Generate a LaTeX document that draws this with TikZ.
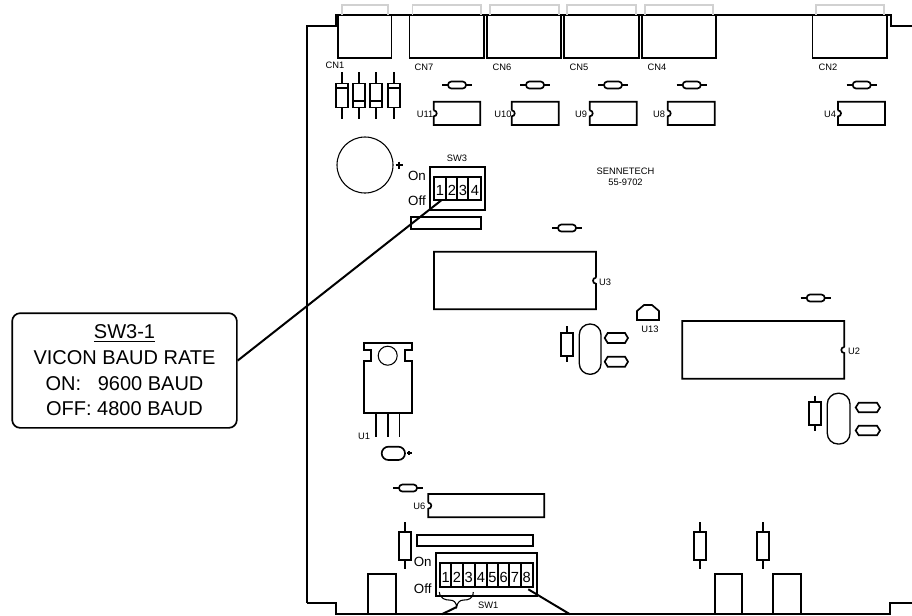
\documentclass[tikz,border=0pt]{standalone}
\usepackage{fontspec}
\setmainfont{Liberation Sans}
\tikzset{
  board/.style={color=black, line width=1.25pt},
  leader/.style={color=black, line width=1.5pt},
  fine/.style={color=black, line width=0.8pt},
  shell/.style={color=black!18, line width=0.8pt},
  tag/.style={inner sep=0pt, font=\fontsize{7}{8}\selectfont},
  digit/.style={inner sep=0pt, font=\fontsize{11}{12}\selectfont},
  swtag/.style={inner sep=0pt, font=\fontsize{10}{11}\selectfont},
  callout/.style={draw, board, rounded corners=6pt, align=center, inner sep=0pt,
    minimum width=168.5pt, minimum height=86pt, font=\fontsize{15}{19.3}\selectfont}
}
\begin{document}
\begin{tikzpicture}[x=0.75pt, y=-0.75pt]
\useasboundingbox (0,0) rectangle (912,615);

% outline of the board
\draw[board](307.3,602.7) -- (307.3,26) -- (336,26) -- (336,15) -- (891,15) -- (891,26) -- (912,26);
\draw[board](307.3,602.7) -- (336,602.7) -- (336,614.3) -- (890,614.3) -- (890,603) -- (912,603);

% connectors along the top
\foreach \a/\b in {338/391.5, 409.5/484, 487/561, 564/639, 642/716, 812.5/887}
  \draw[board](\a,15) rectangle (\b,58);
\foreach \a/\b in {342/388, 412.5/481, 490/559, 567/636, 645/713, 816/884}
  \draw[shell](\a,15) -- (\a,5) -- (\b,5) -- (\b,15);

\node[tag] (cn1) at (335,65) {CN1};
\node[tag] (cn7) at (424,67) {CN7};
\node[tag] (cn6) at (502,67) {CN6};
\node[tag] (cn5) at (579,67) {CN5};
\node[tag] (cn4) at (657,67) {CN4};
\node[tag] (cn2) at (828,67) {CN2};

% diodes
\foreach \x/\t in {342/88, 359/101, 376.3/101, 393.7/88}{
  \draw[board](\x-6,83.5) rectangle (\x+6,107.5);
  \draw[board](\x-6,\t) -- (\x+6,\t);
  \draw[board](\x,72) -- (\x,83.5);
  \draw[board](\x,107.5) -- (\x,119);
}

% small capacitors
\foreach \x/\y in {457/85, 535/85, 613/85, 691.7/85, 861.7/85, 567/228, 815.7/298, 408/488}{
  \draw[board, rounded corners=2.5pt](\x-9,\y-3.5) rectangle (\x+9,\y+3.5);
  \draw[board](\x-15,\y) -- (\x-9,\y);
  \draw[board](\x+9,\y) -- (\x+15,\y);
}

% small chips, notch on the left
\foreach \a/\b/\c/\d in {433.7/480.3/101.7/125, 511.7/558.7/101.7/125, 589.7/636.7/101.7/125,
    667.7/714.7/101.7/125, 838/885/101.7/125, 428.3/544.3/494/517.3}
  \draw[board](\a,{(\c+\d)/2-3}) -- (\a,\c) -- (\b,\c) -- (\b,\d) -- (\a,\d) -- (\a,{(\c+\d)/2+3})
    .. controls (\a+4,{(\c+\d)/2+3}) and (\a+4,{(\c+\d)/2-3}) .. (\a,{(\c+\d)/2-3});

\node[tag] (u11) at (425,114) {U11};
\node[tag] (u10) at (503,114) {U10};
\node[tag] (u9) at (581,114) {U9};
\node[tag] (u8) at (659,114) {U8};
\node[tag] (u4) at (830,114) {U4};
\node[tag] (u6) at (419.3,506) {U6};

% battery
\draw[fine](365,165) circle (28);
\draw[board](395.5,165) -- (402.5,165);
\draw[board](399,161.5) -- (399,168.5);

% SW3
\draw[board](430,166.7) rectangle (484.7,210);
\draw[board](434,176.7) rectangle (480.7,200);
\foreach \x in {446,457,468}
  \draw[board](\x,176.7) -- (\x,200);
\foreach \x [count=\n] in {440,452,463,475}
  \node[digit] (swa\n) at (\x,190) {\n};
\node[swtag] (ona) at (417,176) {On};
\node[swtag] (offa) at (417,201) {Off};
\node[tag] (sw3) at (457,158) {SW3};
\draw[board](411,216.7) rectangle (481,228.7);

\node[tag] (sennetech) at (625.5,171) {SENNETECH};
\node[tag] (partno) at (625.5,182) {55-9702};

% large chips, notch on the right
\draw[board](596,277.7) -- (596,251.7) -- (434,251.7) -- (434,309.3) -- (596,309.3) -- (596,283.7)
  .. controls (592,283.7) and (592,277.7) .. (596,277.7);
\node[tag] (u3) at (605,282) {U3};
\draw[board](844.3,347) -- (844.3,321) -- (682.3,321) -- (682.3,378.7) -- (844.3,378.7) -- (844.3,353)
  .. controls (840.3,353) and (840.3,347) .. (844.3,347);
\node[tag] (u2) at (854,351) {U2};

% U13
\draw[board](637,320) -- (637,311) -- (644,305) -- (652,305) -- (659,311) -- (659,320) -- cycle;
\node[tag] (u13) at (650,329) {U13};

% upright resistors
\foreach \x/\t/\b/\p/\q in {567/333.3/355.7/326/361.7, 815.3/401.7/425/395.7/431,
    700/531.7/560.3/522.3/569.3, 763.3/531.7/560.3/522.3/569.3, 405.3/531.7/560/522.3/569.3}{
  \draw[board](\x-6,\t) rectangle (\x+6,\b);
  \draw[board](\x,\p) -- (\x,\t);
  \draw[board](\x,\b) -- (\x,\q);
}

% crystals
\foreach \a/\b/\c/\d in {579.3/601/324/374.3, 827.3/850/393.3/444}
  \draw[fine, line width=1pt, rounded corners=8pt](\a,\c) rectangle (\b,\d);

% pads
\foreach \a/\b/\c/\d in {604.7/628/333/343, 604.7/628/356.7/366.7, 855.7/880/402.7/412.3, 855.7/880/425.7/435.3}
  \draw[board](\a+3,\c) -- (\b-3,\c) -- (\b,{(\c+\d)/2}) -- (\b-3,\d) -- (\a+3,\d) -- (\a,{(\c+\d)/2}) -- cycle;

% U1
\draw[board](364,343) -- (412,343) -- (412,350) -- (405,350) -- (405,361) -- (412,361) -- (412,413.3)
  -- (364,413.3) -- (364,361) -- (371,361) -- (371,350) -- (364,350) -- cycle;
\draw[fine](387.7,355.7) circle (9.5);
\foreach \x in {376,388,399.6}
  \draw[board](\x,413.3) -- (\x,436.7);
\node[tag] (u1) at (364,436) {U1};
\draw[board, rounded corners=5pt](381.7,446.7) rectangle (405,460);
\draw[board](407,453) -- (411.5,453);
\draw[board](409.3,451) -- (409.3,455);

% SW1
\draw[board](416.7,534.7) rectangle (532.7,546);
\draw[board](436,553.3) rectangle (536.7,596);
\draw[board](440,563.3) rectangle (532.7,586.7);
\foreach \x in {451,462.7,475,486.7,498,509.3,521}
  \draw[board](\x,563.3) -- (\x,586.7);
\foreach \x [count=\n] in {445.7,457,468.7,481,492.5,503.7,515,526.8}
  \node[digit] (swb\n) at (\x,577.3) {\n};
\node[swtag] (onb) at (422.7,561.7) {On};
\node[swtag] (offb) at (422.7,588.3) {Off};
\node[tag] (sw1) at (488.3,605) {SW1};
\draw[fine](439.3,592) .. controls (440,599) and (446,600) .. (449,600) .. controls (454,600) and (456,602) .. (456.7,607)
  .. controls (457.5,602) and (460,600) .. (464,600) .. controls (468,600) and (473,599) .. (473.3,592);

% bottom connectors
\foreach \a/\b in {368.3/396, 714.7/742.3, 772.7/800.7}
  \draw[board](\a,614.3) -- (\a,574.3) -- (\b,574.3) -- (\b,614.3);

% callout and its leaders
\node[callout] (baud) at (124.5,370.5) {\underline{SW3-1}\\VICON BAUD RATE\\ON:~~~9600 BAUD\\OFF: 4800 BAUD};
\coordinate (swaend) at (441.7,200);
\coordinate (swbend) at (528.3,589.3);
\coordinate (swcend) at (456.7,607);
\coordinate (edgeb) at (570,614.3);
\coordinate (edgec) at (441.7,614.3);
\draw[leader](baud.5) -- (swaend);
\draw[leader](swbend) -- (edgeb);
\draw[leader](swcend) -- (edgec);
\end{tikzpicture}
\end{document}
